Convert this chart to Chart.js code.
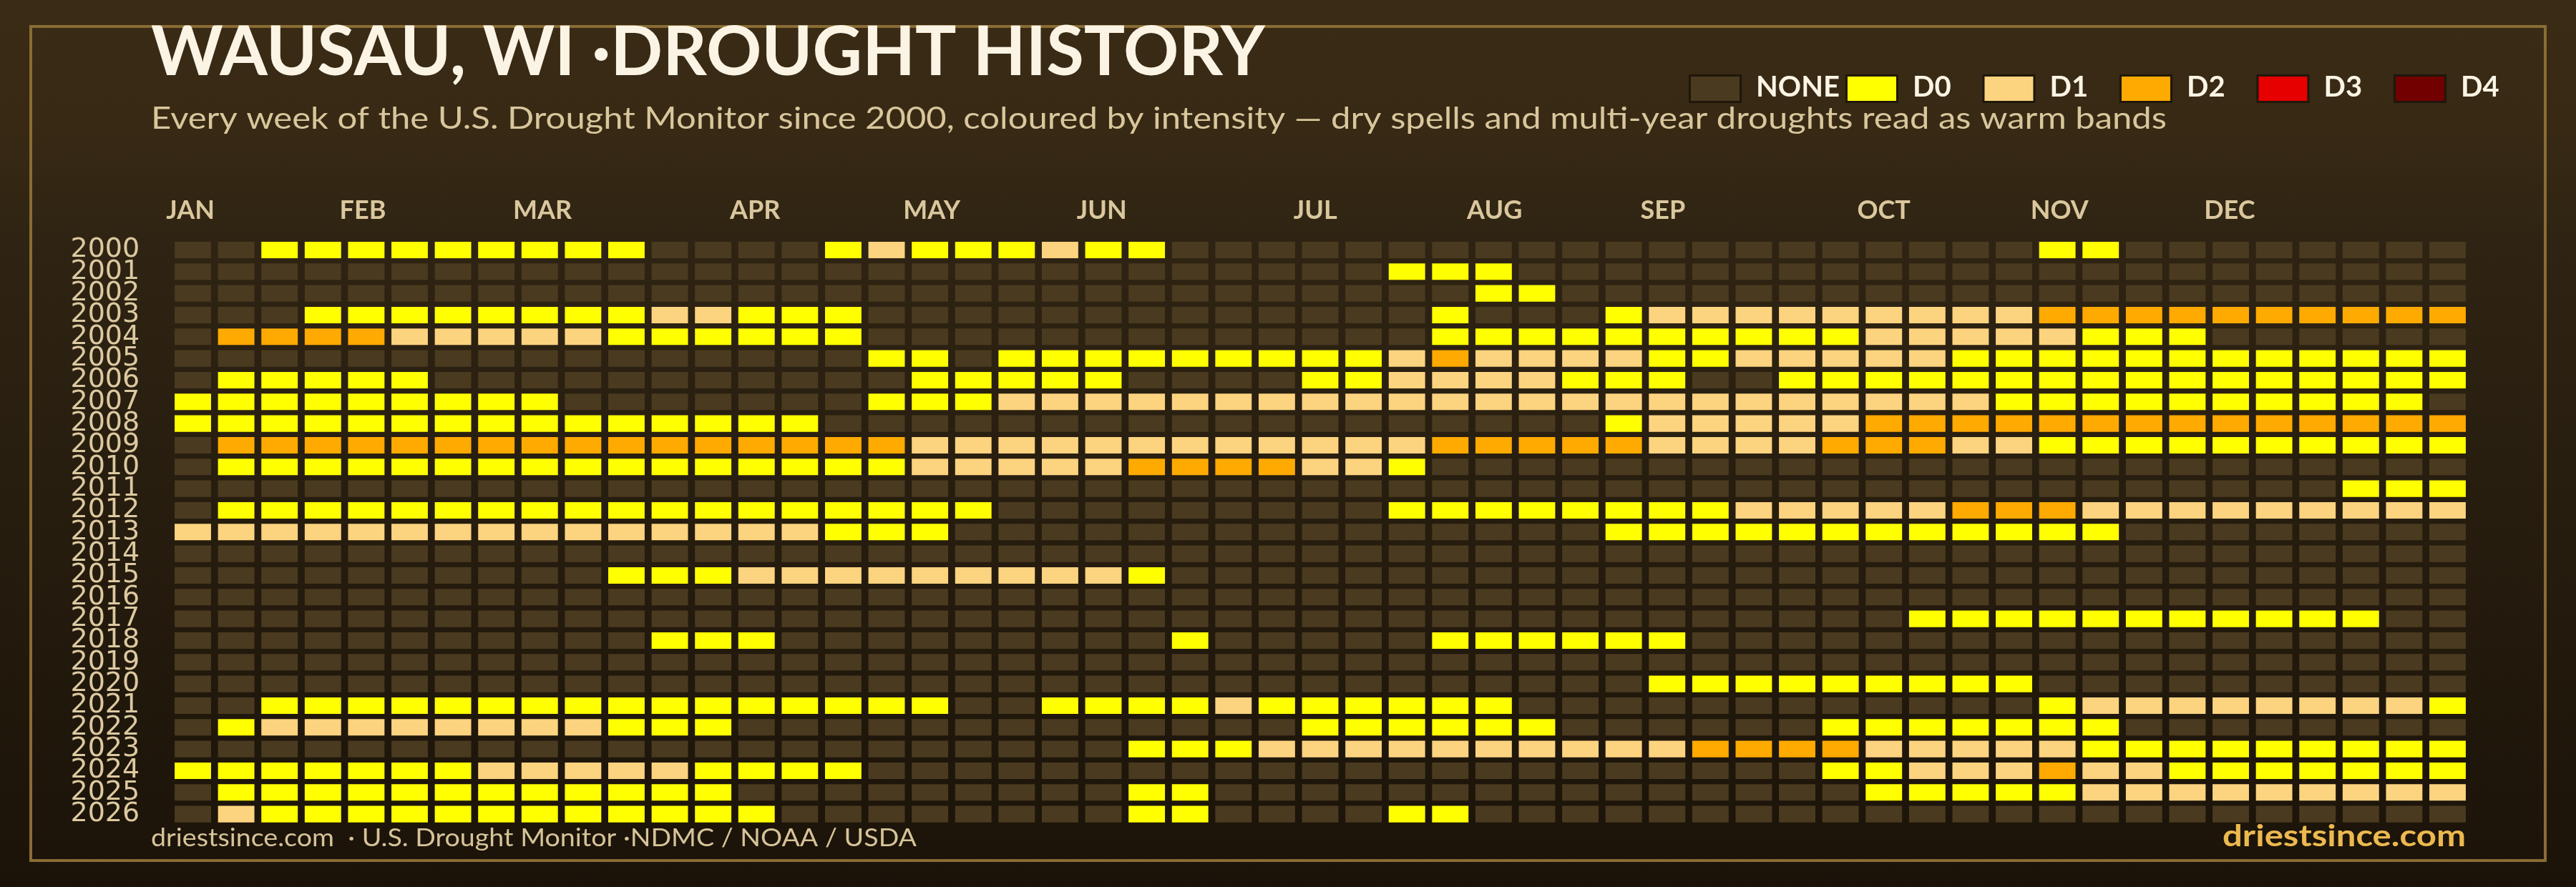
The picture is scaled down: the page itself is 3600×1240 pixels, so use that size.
<!DOCTYPE html>
<html>
<head>
<meta charset="utf-8">
<title>Wausau, WI drought history</title>
<script src="https://cdn.jsdelivr.net/npm/chart.js@4.4.1/dist/chart.umd.min.js"></script>
<style>
  html, body { margin: 0; padding: 0; background: #1b1309; }
  canvas { display: block; }
</style>
</head>
<body>
<canvas id="droughtChart" width="3600" height="1240"></canvas>
<script>
const years = [2000, 2001, 2002, 2003, 2004, 2005, 2006, 2007, 2008, 2009, 2010, 2011, 2012, 2013,
  2014, 2015, 2016, 2017, 2018, 2019, 2020, 2021, 2022, 2023, 2024, 2025, 2026];

const monthLabels = ['JAN', 'FEB', 'MAR', 'APR', 'MAY', 'JUN', 'JUL', 'AUG', 'SEP', 'OCT', 'NOV', 'DEC'];
const monthStartWeeks = [0, 4, 8, 13, 17, 21, 26, 30, 34, 39, 43, 47];

const levelNames = ['NONE', 'D0', 'D1', 'D2', 'D3', 'D4'];
const levelCodes = ['-', '0', '1', '2', '3', '4'];
const levelColors = ['#4a3a1f', '#ffff00', '#fcd37f', '#ffaa00', '#e60000', '#730000'];

// one string per year, one character per week: '-' no drought, '0'..'4' = D0..D4
// (spaces every 10 weeks only to keep it readable)
const weeklyLevels = [
  '--00000000 0----01000 100------- ---------- ---00----- ---', // 2000
  '---------- ---------- --------00 0--------- ---------- ---', // 2001
  '---------- ---------- ---------- 00-------- ---------- ---', // 2002
  '---0000000 011000---- ---------0 ---0111111 1112222222 222', // 2003
  '-222211111 000000---- ---------0 0000000001 1111000--- ---', // 2004
  '---------- ------00-0 0000000012 1111001111 1000000000 000', // 2005
  '-00000---- -------000 00----0011 11000--000 0000000000 000', // 2006
  '000000000- ------0001 1111111111 1111111111 1100000000 00-', // 2007
  '0000000000 00000----- ---------- ---0111112 2222222222 222', // 2008
  '-222222222 2222222111 1111111112 2222111122 2110000000 000', // 2009
  '-000000000 0000000111 112222110- ---------- ---------- ---', // 2010
  '---------- ---------- ---------- ---------- ---------- 000', // 2011
  '-000000000 000000000- --------00 0000001111 1222111111 111', // 2012
  '1111111111 11111000-- ---------- ---0000000 00000----- ---', // 2013
  '---------- ---------- ---------- ---------- ---------- ---', // 2014
  '---------- 0001111111 110------- ---------- ---------- ---', // 2015
  '---------- ---------- ---------- ---------- ---------- ---', // 2016
  '---------- ---------- ---------- ---------- 0000000000 0--', // 2017
  '---------- -000------ ---0-----0 00000----- ---------- ---', // 2018
  '---------- ---------- ---------- ---------- ---------- ---', // 2019
  '---------- ---------- ---------- ----000000 000------- ---', // 2020
  '--00000000 00000000-- 0000100000 0--------- ---0111111 110', // 2021
  '-011111111 000------- ------0000 00------00 00000----- ---', // 2022
  '---------- ---------- --00011111 1111122221 1111000000 000', // 2023
  '0000000111 110000---- ---------- --------00 1112110000 000', // 2024
  '-000000000 000------- --00------ ---------0 0000111111 111', // 2025
  '-100000000 0000------ --00----00 ---------- ---------- ---', // 2026
];

const weeksPerYear = 53;
const cellInset = 0.08;

const cellsByLevel = levelCodes.map(() => []);
weeklyLevels.forEach((row, yi) => {
  const codes = row.replace(/\s/g, '');
  if (codes.length !== weeksPerYear) {
    throw new Error(`${years[yi]} has ${codes.length} weeks`);
  }
  for (let w = 0; w < codes.length; w++) {
    const level = levelCodes.indexOf(codes[w]);
    cellsByLevel[level].push({ x: [w + cellInset, w + 1 - cellInset], y: String(years[yi]) });
  }
});

function drawFitted(ctx, text, x, y, font, width, color, align = 'left') {
  ctx.font = font;
  ctx.fillStyle = color;
  ctx.textAlign = align;
  ctx.textBaseline = 'alphabetic';
  const natural = ctx.measureText(text).width;
  ctx.save();
  ctx.translate(x, y);
  ctx.scale(width / natural, 1);
  ctx.fillText(text, 0, 0);
  ctx.restore();
}

const framePlugin = {
  id: 'frame',
  beforeDraw(chart) {
    const { ctx, width, height } = chart;
    const bg = ctx.createLinearGradient(0, 0, 0, height);
    bg.addColorStop(0, '#3a2b15');
    bg.addColorStop(0.15, '#372914');
    bg.addColorStop(0.27, '#2f2413');
    bg.addColorStop(1, '#1b1309');
    ctx.save();
    ctx.fillStyle = bg;
    ctx.fillRect(0, 0, width, height);
    ctx.strokeStyle = '#8a6c34';
    ctx.lineWidth = 4;
    ctx.strokeRect(43, 37, 3514, 1166);
    ctx.restore();
  },
  afterDraw(chart) {
    const { ctx } = chart;
    ctx.save();
    drawFitted(ctx, 'WAUSAU, WI ·DROUGHT HISTORY', 211, 105, 'bold 95px Lato', 1557, '#fbf4e4');
    drawFitted(ctx, 'Every week of the U.S. Drought Monitor since 2000, coloured by intensity — dry spells and multi-year droughts read as warm bands',
      211, 180, '42px Lato', 2817, '#d9c69c');

    // legend
    let lx = 2360;
    ctx.textAlign = 'left';
    ctx.textBaseline = 'alphabetic';
    levelNames.forEach((name, i) => {
      ctx.fillStyle = '#1f170b';
      ctx.fillRect(lx, 104, 74, 40);
      ctx.fillStyle = levelColors[i];
      ctx.fillRect(lx + 3, 107, 68, 34);
      ctx.font = 'bold 40px Lato';
      ctx.fillStyle = '#fbf4e4';
      ctx.fillText(name, lx + 94, 135);
      lx += Math.max(191.5, 94 + ctx.measureText(name).width + 8);
    });

    drawFitted(ctx, 'driestsince.com  · U.S. Drought Monitor ·NDMC / NOAA / USDA', 211, 1183, '35px Lato', 1070, '#d6c398');
    drawFitted(ctx, 'driestsince.com', 3446, 1183, 'bold 42px Lato', 340, '#ecb94f', 'right');
    ctx.restore();
  }
};

new Chart(document.getElementById('droughtChart'), {
  type: 'bar',
  data: {
    labels: years.map(String),
    datasets: levelNames.map((name, i) => ({
      label: name,
      data: cellsByLevel[i],
      backgroundColor: levelColors[i],
      borderWidth: 0,
      grouped: false,
      barPercentage: 0.76,
      categoryPercentage: 1,
    })),
  },
  options: {
    indexAxis: 'y',
    responsive: false,
    animation: false,
    devicePixelRatio: 1,
    layout: { padding: { top: 200, left: 40, right: 149.2, bottom: 86.7 } },
    plugins: {
      legend: { display: false },
      tooltip: { enabled: false },
    },
    scales: {
      x: {
        type: 'linear',
        position: 'top',
        min: 0,
        max: weeksPerYear,
        grid: { display: false, drawTicks: false },
        border: { display: false },
        afterBuildTicks: (scale) => {
          scale.ticks = monthStartWeeks.map((v) => ({ value: v }));
        },
        afterFit: (scale) => { scale.height = 134.3; },
        ticks: {
          align: 'start',
          autoSkip: false,
          maxRotation: 0,
          padding: 18,
          labelOffset: -7,
          color: '#dac79d',
          font: { family: 'Lato', size: 36, weight: 'bold' },
          callback: (value, index) => monthLabels[index],
        },
      },
      y: {
        type: 'category',
        grid: { display: false, drawTicks: false },
        border: { display: false },
        afterFit: (scale) => { scale.width = 199.2; },
        ticks: {
          autoSkip: false,
          padding: 44,
          color: '#dcc9a0',
          font: { family: 'DejaVu Sans', size: 38 },
        },
      },
    },
  },
  plugins: [framePlugin],
});
</script>
</body>
</html>
